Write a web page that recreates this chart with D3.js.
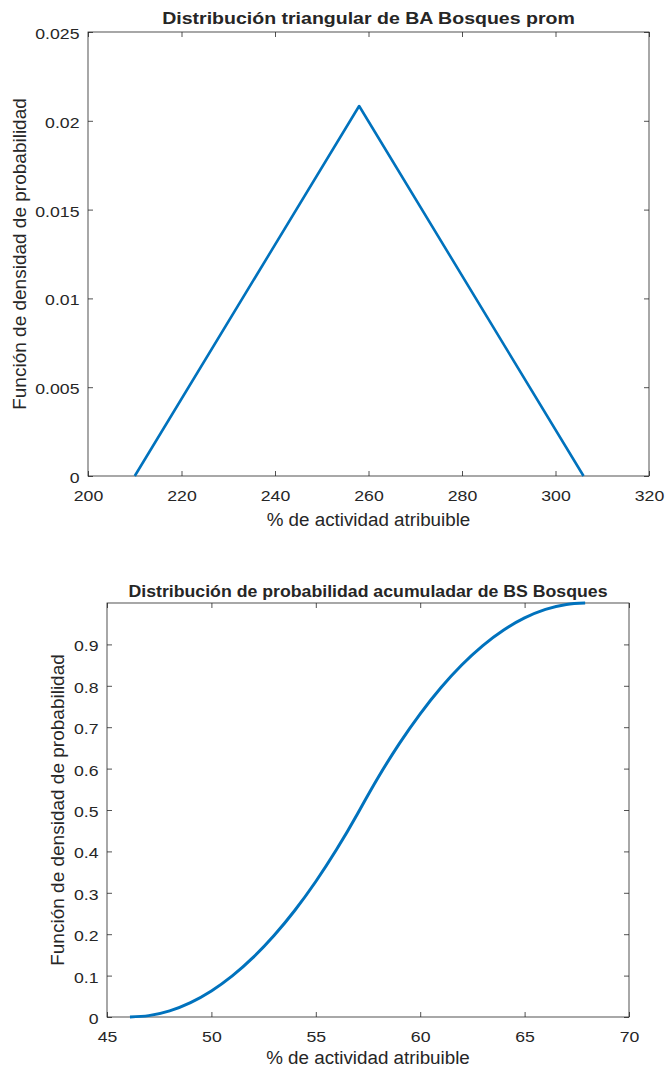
<!DOCTYPE html>
<html><head><meta charset="utf-8">
<script src="https://cdn.jsdelivr.net/npm/d3@7"></script>
<style>body{margin:0;background:#fff}svg{display:block}text{font-family:"Liberation Sans",Arial,sans-serif;fill:#262626}</style>
</head><body><svg id="c" width="670" height="1068"></svg>
<script>
// Top chart: triangular PDF
const triX = [210, 258, 306];
const triY = [0, 0.020833, 0];
const topXTicks = [200, 220, 240, 260, 280, 300, 320];
const topYTicks = [0, 0.005, 0.01, 0.015, 0.02, 0.025];
// Bottom chart: cumulative distribution
const cdfX = [46.1, 47, 48, 49, 50, 51, 52, 53, 54, 55, 56, 57, 57.2, 58, 59, 60, 61, 62, 63, 64, 65, 66, 67, 67.9];
const cdfY = [0, 0.0033, 0.0149, 0.0348, 0.0629, 0.0992, 0.1439, 0.1968, 0.2579, 0.3273, 0.4050, 0.4910, 0.5092, 0.5798, 0.6604, 0.7324, 0.7959, 0.8508, 0.8971, 0.9348, 0.9639, 0.9845, 0.9965, 1.0];
const botXTicks = [45, 50, 55, 60, 65, 70];
const botYTicks = [0, 0.1, 0.2, 0.3, 0.4, 0.5, 0.6, 0.7, 0.8, 0.9];

const svg = d3.select("#c");
const blue = "#0072BD";
const TICK_FS = 15.5, TICK_SX = 1.14;

function stretch(sel, sx) {
  sel.each(function () {
    const w = this.getComputedTextLength();
    if (w > 0) {
      this.setAttribute("textLength", (w * sx).toFixed(2));
      this.setAttribute("lengthAdjust", "spacingAndGlyphs");
    }
  });
}

function panel(o) {
  const g = svg.append("g");
  const x = d3.scaleLinear().domain(o.xd).range([o.l, o.r]);
  const y = d3.scaleLinear().domain(o.yd).range([o.b, o.t]);
  const tl = 5;
  const ax = g.append("g").attr("transform", `translate(0,${o.b})`)
    .call(d3.axisBottom(x).tickValues(o.xt).tickSize(-tl).tickPadding(13.5).tickFormat(d3.format("d")));
  const ay = g.append("g").attr("transform", `translate(${o.l},0)`)
    .call(d3.axisLeft(y).tickValues(o.yt).tickSize(-tl).tickPadding(8.5).tickFormat(o.fmt));
  const axT = g.append("g").attr("transform", `translate(0,${o.t})`)
    .call(d3.axisTop(x).tickValues(o.xt).tickSize(-tl).tickFormat(""));
  const ayR = g.append("g").attr("transform", `translate(${o.r},0)`)
    .call(d3.axisRight(y).tickValues(o.yt).tickSize(-tl).tickFormat(""));
  [ax, ay, axT, ayR].forEach(a => {
    a.select(".domain").remove();
    a.selectAll("line").attr("stroke", "#262626").attr("stroke-width", 0.8);
    a.selectAll("text").style("font-size", TICK_FS + "px").attr("fill", "#333");
  });
  ay.selectAll("text").attr("dy", "0.42em");
  stretch(ax.selectAll("text"), TICK_SX);
  stretch(ay.selectAll("text"), TICK_SX);
  g.append("rect").attr("x", o.l).attr("y", o.t).attr("width", o.r - o.l).attr("height", o.b - o.t)
    .attr("fill", "none").attr("stroke", "#262626").attr("stroke-width", 0.8);
  const line = d3.line().x(d => x(d[0])).y(d => y(d[1])).curve(o.curve);
  g.append("path").datum(o.xs.map((v, i) => [v, o.ys[i]]))
    .attr("d", line).attr("fill", "none").attr("stroke", blue).attr("stroke-width", o.sw)
    .attr("stroke-linejoin", "round");
  const title = g.append("text").attr("x", (o.l + o.r) / 2).attr("y", o.t - o.td).attr("text-anchor", "middle")
    .style("font-size", o.tfs + "px").style("font-weight", "bold").attr("fill", "#000").text(o.title);
  stretch(title, o.tsx);
  g.append("text").attr("x", (o.l + o.r) / 2).attr("y", o.b + o.xld).attr("text-anchor", "middle")
    .style("font-size", "18.8px").attr("fill", "#333").text("% de actividad atribuible");
  g.append("text").attr("transform", `translate(${o.yl},${(o.t + o.b) / 2}) rotate(-90)`)
    .attr("text-anchor", "middle").style("font-size", "19px").attr("fill", "#333").text("Función de densidad de probabilidad");
}

panel({l: 88, r: 649, t: 32, b: 476, xd: [200, 320], yd: [0, 0.025], xt: topXTicks, yt: topYTicks,
  fmt: d => d === 0 ? "0" : String(+d.toFixed(3)), xs: triX, ys: triY, curve: d3.curveLinear, sw: 2.6,
  title: "Distribución triangular de BA Bosques prom", yl: 26, td: 8, xld: 50, tfs: 17.3, tsx: 1.13});
panel({l: 107, r: 629, t: 603, b: 1017, xd: [45, 70], yd: [0, 1], xt: botXTicks, yt: botYTicks,
  fmt: d => d === 0 ? "0" : String(+d.toFixed(1)), xs: cdfX, ys: cdfY, curve: d3.curveMonotoneX, sw: 3,
  title: "Distribución de probabilidad acumuladar de BS Bosques", yl: 64, td: 6, xld: 47, tfs: 16.5, tsx: 1.073});
</script></body></html>
